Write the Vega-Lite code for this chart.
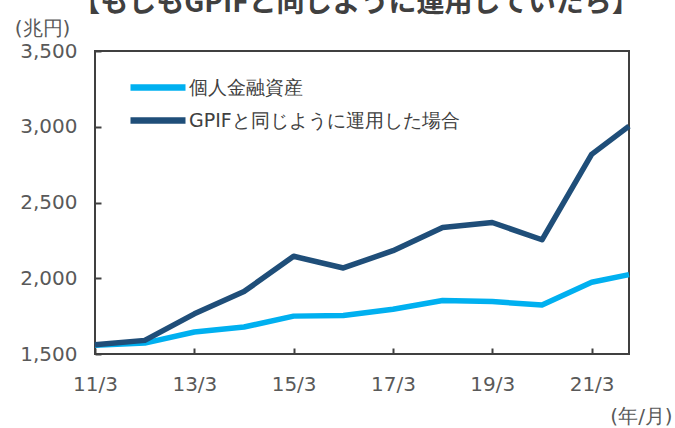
{
  "$schema": "https://vega.github.io/schema/vega-lite/v6.json",
  "autosize": {"type": "none"},
  "padding": {"left": 95, "top": 51, "right": 46, "bottom": 74},
  "width": 534,
  "height": 303,
  "background": "white",
  "title": {
    "text": "【もしもGPIFと同じように運用していたら】",
    "font": "Noto Sans CJK JP",
    "fontSize": 28,
    "fontWeight": "bold",
    "color": "#404040",
    "anchor": "middle",
    "frame": "group",
    "baseline": "alphabetic",
    "offset": 4,
    "dx": -6,
    "dy": 26
  },
  "config": {
    "view": {"stroke": "#404040", "strokeWidth": 2},
    "font": "DejaVu Sans"
  },
  "data": {
    "values": [
      {"date": "2011-03-01", "series": "個人金融資産", "value": 1558},
      {"date": "2012-03-01", "series": "個人金融資産", "value": 1572},
      {"date": "2013-03-01", "series": "個人金融資産", "value": 1645},
      {"date": "2014-03-01", "series": "個人金融資産", "value": 1678},
      {"date": "2015-03-01", "series": "個人金融資産", "value": 1750},
      {"date": "2016-03-01", "series": "個人金融資産", "value": 1754},
      {"date": "2017-03-01", "series": "個人金融資産", "value": 1795},
      {"date": "2018-03-01", "series": "個人金融資産", "value": 1853},
      {"date": "2019-03-01", "series": "個人金融資産", "value": 1846},
      {"date": "2020-03-01", "series": "個人金融資産", "value": 1824},
      {"date": "2021-03-01", "series": "個人金融資産", "value": 1974},
      {"date": "2021-12-01", "series": "個人金融資産", "value": 2024},
      {"date": "2011-03-01", "series": "GPIFと同じように運用した場合", "value": 1561},
      {"date": "2012-03-01", "series": "GPIFと同じように運用した場合", "value": 1590},
      {"date": "2013-03-01", "series": "GPIFと同じように運用した場合", "value": 1765},
      {"date": "2014-03-01", "series": "GPIFと同じように運用した場合", "value": 1912},
      {"date": "2015-03-01", "series": "GPIFと同じように運用した場合", "value": 2145},
      {"date": "2016-03-01", "series": "GPIFと同じように運用した場合", "value": 2068},
      {"date": "2017-03-01", "series": "GPIFと同じように運用した場合", "value": 2182},
      {"date": "2018-03-01", "series": "GPIFと同じように運用した場合", "value": 2335},
      {"date": "2019-03-01", "series": "GPIFと同じように運用した場合", "value": 2368},
      {"date": "2020-03-01", "series": "GPIFと同じように運用した場合", "value": 2254},
      {"date": "2021-03-01", "series": "GPIFと同じように運用した場合", "value": 2818},
      {"date": "2021-12-01", "series": "GPIFと同じように運用した場合", "value": 3004}
    ]
  },
  "mark": {"type": "line", "strokeWidth": 5.5, "strokeJoin": "round", "strokeCap": "butt"},
  "encoding": {
    "x": {
      "field": "date",
      "type": "temporal",
      "scale": {
        "type": "utc",
        "domain": [
          {"year": 2011, "month": 3, "date": 1, "utc": true},
          {"year": 2021, "month": 12, "date": 1, "utc": true}
        ]
      },
      "axis": {
        "values": [
          {"year": 2011, "month": 3, "date": 1, "utc": true},
          {"year": 2013, "month": 3, "date": 1, "utc": true},
          {"year": 2015, "month": 3, "date": 1, "utc": true},
          {"year": 2017, "month": 3, "date": 1, "utc": true},
          {"year": 2019, "month": 3, "date": 1, "utc": true},
          {"year": 2021, "month": 3, "date": 1, "utc": true}
        ],
        "labelExpr": "utcFormat(datum.value, '%y/%-m')",
        "grid": false,
        "domain": false,
        "tickColor": "#404040",
        "tickWidth": 2,
        "tickSize": -6,
        "labelPadding": 26,
        "labelFont": "DejaVu Sans",
        "labelFontSize": 20,
        "labelColor": "#595959",
        "labelFlush": false,
        "labelOverlap": false,
        "title": "(年/月)",
        "titleFont": "DejaVu Sans",
        "titleFontSize": 20,
        "titleFontWeight": "normal",
        "titleColor": "#595959",
        "titleX": 546,
        "titleY": 62,
        "titleAlign": "center",
        "titleBaseline": "middle",
        "titleAnchor": null
      }
    },
    "y": {
      "field": "value",
      "type": "quantitative",
      "scale": {"domain": [1500, 3500], "nice": false, "zero": false},
      "axis": {
        "values": [1500, 2000, 2500, 3000, 3500],
        "format": ",.0f",
        "grid": false,
        "domain": false,
        "tickColor": "#404040",
        "tickWidth": 2,
        "tickSize": -6,
        "labelPadding": 24,
        "labelFont": "DejaVu Sans",
        "labelFontSize": 20,
        "labelColor": "#595959",
        "labelFlush": false,
        "labelOverlap": false,
        "title": "(兆円)",
        "titleAngle": 0,
        "titleFont": "DejaVu Sans",
        "titleFontSize": 20,
        "titleFontWeight": "normal",
        "titleColor": "#595959",
        "titleX": -53,
        "titleY": -23,
        "titleAlign": "center",
        "titleBaseline": "middle"
      }
    },
    "color": {
      "field": "series",
      "type": "nominal",
      "scale": {
        "domain": ["個人金融資産", "GPIFと同じように運用した場合"],
        "range": ["#00B0F0", "#1F4E79"]
      },
      "legend": {
        "title": null,
        "orient": "none",
        "legendX": 48.5,
        "legendY": 22,
        "symbolType": "M-2.5,0H2.5",
        "symbolSize": 484,
        "symbolStrokeWidth": 6.5,
        "symbolStrokeCap": "round",
        "symbolFillColor": "transparent",
        "labelFont": "DejaVu Sans",
        "labelFontSize": 19,
        "labelColor": "#404040",
        "labelOffset": 16.5,
        "labelLimit": 400,
        "rowPadding": 5
      }
    }
  }
}
